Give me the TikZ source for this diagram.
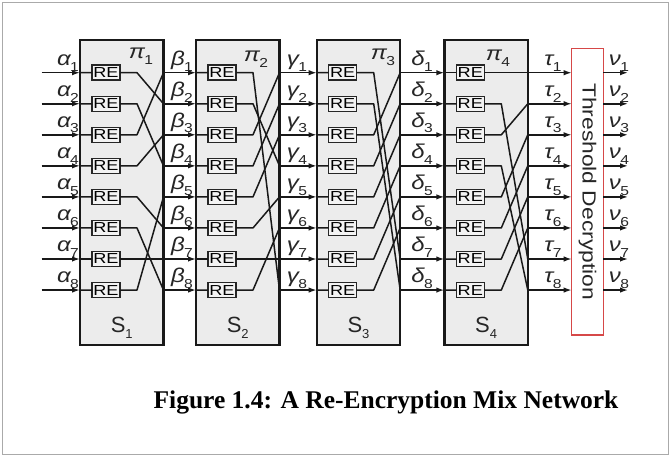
\documentclass[tikz,border=0pt]{standalone}
\usepackage{fontspec}
\setmainfont{Liberation Sans}
\newfontfamily\capfont{Liberation Serif}
\usetikzlibrary{arrows.meta}
\definecolor{boxfill}{RGB}{236,236,236}
\definecolor{refill}{RGB}{243,243,243}
\definecolor{wirecol}{RGB}{25,25,25}
\definecolor{tdred}{RGB}{214,72,72}
\definecolor{framecol}{RGB}{170,170,170}
% Greek symbol with a lowered index, slightly widened
\newcommand{\glab}[2]{\scalebox{1.2}[1]{{\itshape #1}\kern-0.5pt\raisebox{-0.55ex}{\fontsize{13}{13}\selectfont #2}}}
\begin{document}
\begin{tikzpicture}[x=1pt,y=-1pt,
  sbox/.style={draw=black!90, line width=2.4pt, fill=boxfill, outer sep=0pt,
    inner sep=0pt, anchor=north west, minimum width=83.5pt, minimum height=305pt},
  rebox/.style={draw=black!85, line width=1.5pt, fill=refill, minimum width=28pt,
    minimum height=15pt, inner sep=0pt, outer sep=0pt, anchor=west,
    font=\fontsize{14.5}{14.5}\selectfont},
  wire/.style={draw=wirecol, line width=1.5pt, line join=round},
  arr/.style={wire, -{Latex[length=8pt,width=5.5pt]}},
  glabel/.style={inner sep=0pt, anchor=south, text=black!85,
    font=\fontsize{20}{20}\selectfont},
  pilabel/.style={inner sep=0pt, text=black!85, font=\fontsize{20}{20}\selectfont},
  slabel/.style={inner sep=0pt, text=black!85, font=\fontsize{22}{22}\selectfont},
  tdbox/.style={draw=tdred, line width=1.5pt, fill=white, inner sep=0pt, outer sep=0pt,
    minimum width=31.6pt, minimum height=286.7pt},
  capstyle/.style={inner sep=0pt, font=\capfont\bfseries\fontsize{25.5}{25.5}\selectfont}
]
\useasboundingbox (0,0) rectangle (670,456);
\draw[framecol, line width=1pt] (2,2) rectangle (668,454);

% the four switching stages with their re-encryption boxes
\foreach \k/\xl in {1/80,2/196,3/316.7,4/444.3}{
  \node[sbox] (S\k) at (\xl,40) {};
  \node[slabel] (sl\k) at (\xl+41.75,328) {S\raisebox{-0.5ex}{\fontsize{13}{13}\selectfont\k}};
  \foreach \i in {1,...,8}{
    \pgfmathsetmacro{\yy}{72.7+31.05*(\i-1)}
    \coordinate (n\k-\i) at (\xl,\yy);
    \coordinate (t\k-\i) at (\xl+57,\yy);
    \coordinate (o\k-\i) at (\xl+83.5,\yy);
    \node[rebox] (re\k-\i) at (\xl+12,\yy) {\scalebox{1.25}[1]{RE}};
  }
}

% threshold decryption block
\node[tdbox] (TD) at (587.5,191.65) {};
\node[inner sep=0pt, rotate=-90, text=black!85] (tdtext) at (TD.center)
  {\scalebox{1.2}[1]{\fontsize{19}{19}\selectfont Threshold Decryption}};

% permutations inside each stage
\foreach \k/\plist in {
  1/{1/2,2/4,3/1,4/3,5/6,6/8,7/7,8/5},
  2/{1/8,2/4,3/1,4/2,5/3,6/5,7/7,8/6},
  3/{1/7,2/8,3/1,4/2,5/3,6/4,7/5,8/6},
  4/{1/1,2/7,3/2,4/8,5/3,6/4,7/5,8/6}}{
  \foreach \i/\j in \plist {
    \draw[wire] (n\k-\i) -- (re\k-\i.west) (re\k-\i.east) -- (t\k-\i) -- (o\k-\j);
  }
}

% inputs, links between stages, outputs
\foreach \i in {1,...,8}{
  \pgfmathsetmacro{\yy}{72.7+31.05*(\i-1)}
  \coordinate (a\i) at (41.7,\yy);
  \coordinate (v\i) at (628,\yy);
  \draw[arr] (a\i) -- (n1-\i);
  \draw[arr] (o1-\i) -- (n2-\i);
  \draw[arr] (o2-\i) -- (n3-\i);
  \draw[arr] (o3-\i) -- (n4-\i);
  \draw[arr] (o4-\i) -- (TD.west |- o4-\i);
  \draw[arr] (TD.east |- o4-\i) -- (v\i);
  \node[glabel] (la\i) at (68,\yy-1.5) {\glab{α}{\i}};
  \node[glabel] (lb\i) at (182,\yy-1.5) {\glab{β}{\i}};
  \node[glabel] (lg\i) at (297,\yy-1.5) {\glab{γ}{\i}};
  \node[glabel] (ld\i) at (422,\yy-1.5) {\glab{δ}{\i}};
  \node[glabel] (lt\i) at (553,\yy-1.5) {\glab{τ}{\i}};
  \node[glabel] (lv\i) at (619,\yy-1.5) {\glab{ν}{\i}};
}

% permutation names
\node[pilabel] (p1) at (141,56) {\glab{π}{1}};
\node[pilabel] (p2) at (256,59) {\glab{π}{2}};
\node[pilabel] (p3) at (383,57) {\glab{π}{3}};
\node[pilabel] (p4) at (498,58) {\glab{π}{4}};

\node[capstyle] (cap) at (386,402) {Figure 1.4: A Re-Encryption Mix Network};
\end{tikzpicture}
\end{document}
